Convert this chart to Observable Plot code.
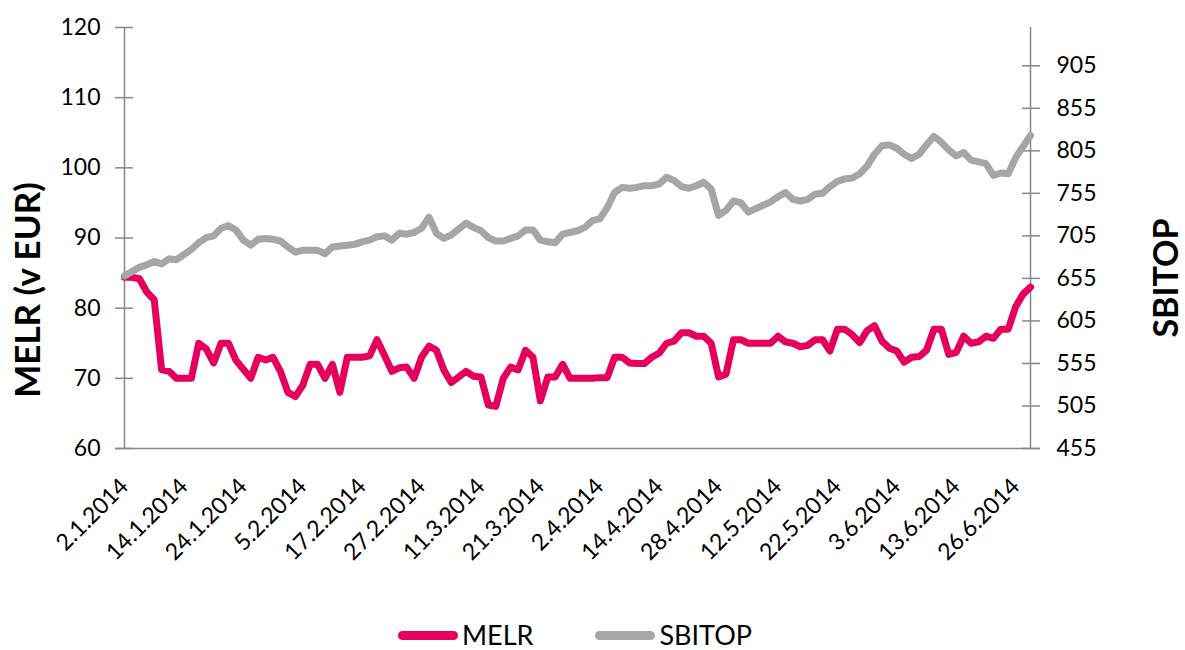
<!DOCTYPE html>
<html><head><meta charset="utf-8">
<script src="https://cdn.jsdelivr.net/npm/d3@7"></script>
<script src="https://cdn.jsdelivr.net/npm/@observablehq/plot@0.6"></script>
<style>
body{margin:0;background:#fff;font-family:Lato,"Open Sans",sans-serif;}
#wrap{position:relative;width:1185px;height:650px;overflow:hidden;background:#fff;}
#wrap svg{display:block;}
.legend{position:absolute;top:618px;left:398px;display:flex;align-items:center;font-size:27px;line-height:34px;color:#000;}
.item{display:flex;align-items:center;}
.sw{display:inline-block;width:60px;height:9px;border-radius:5px;margin-right:4px;}
</style></head><body><div id="wrap"></div>
<script>
const dateLabels = ["2.1.2014","14.1.2014","24.1.2014","5.2.2014","17.2.2014","27.2.2014","11.3.2014","21.3.2014","2.4.2014","14.4.2014","28.4.2014","12.5.2014","22.5.2014","3.6.2014","13.6.2014","26.6.2014"];
const labelIndex = [0,8,16,24,32,40,48,56,64,72,80,88,96,104,112,120];
const melr = [84.4,84.4,84.2,82.3,81.2,71.2,71.0,70.0,70.0,70.0,75.0,74.2,72.2,75.0,75.0,72.6,71.3,70.0,73.0,72.6,
73.0,71.0,68.0,67.4,69.0,72.0,72.0,70.0,72.0,68.0,73.0,73.0,73.0,73.2,75.5,73.3,71.0,71.5,71.6,70.0,
73.0,74.6,74.0,71.2,69.4,70.2,71.0,70.3,70.2,66.2,66.0,70.0,71.6,71.2,74.0,73.0,66.8,70.2,70.2,72.0,
70.0,70.0,70.0,70.0,70.1,70.1,73.0,73.0,72.2,72.1,72.1,73.0,73.6,75.0,75.3,76.5,76.5,76.0,76.0,75.0,
70.2,70.6,75.5,75.5,75.0,75.0,75.0,75.0,76.0,75.2,75.0,74.5,74.7,75.5,75.5,73.9,77.0,77.0,76.2,75.1,
76.8,77.5,75.3,74.3,73.9,72.3,73.0,73.1,74.0,77.0,77.0,73.4,73.7,76.0,75.0,75.2,76.0,75.7,77.0,77.0,
80.2,82.0,83.0];
const sbitop = [658,663,668,671,675,672,678,677,683,689,697,703,705,714,717,712,700,694,701,702,
701,699,692,686,688,688,688,684,692,693,694,695,698,700,704,705,700,708,707,709,
714,727,708,702,706,713,720,715,711,703,699,699,702,705,712,712,700,698,697,707,
709,711,715,723,725,738,756,762,761,762,764,764,766,774,770,763,761,764,768,760,
729,735,746,744,733,737,741,745,751,756,748,746,748,754,755,763,769,772,773,778,
787,801,811,812,808,801,796,801,812,822,815,806,799,803,794,792,790,776,779,778,
797,810,823];
const leftTicks = [60,70,80,90,100,110,120];
const rightTicks = [455,505,555,605,655,705,755,805,855,905];
const leftDomain = [60,120];
const rightDomain = [455,950];
const toLeft = v => leftDomain[0] + (v - rightDomain[0]) * (leftDomain[1]-leftDomain[0]) / (rightDomain[1]-rightDomain[0]);
const fromLeft = y => rightDomain[0] + (y - leftDomain[0]) * (rightDomain[1]-rightDomain[0]) / (leftDomain[1]-leftDomain[0]);
const data = melr.map((m,i) => ({i, melr:m, sb: toLeft(sbitop[i])}));
const pink = "#E6005E", gray = "#A6A6A6", axisColor = "#878787";

const chart = Plot.plot({
  width:1185, height:610,
  marginTop:27, marginBottom:162, marginLeft:124, marginRight:155,
  x:{domain:[0, melr.length-1], axis:null},
  y:{domain:leftDomain, axis:null},
  style:{fontFamily:"Lato, 'Open Sans', sans-serif", fontSize:"23px", color:"#000", background:"#fff"},
  marks:[
    Plot.ruleY([leftDomain[0]], {stroke:axisColor, strokeWidth:1.5, insetLeft:-9, insetRight:-9}),
    Plot.ruleX([0, melr.length-1], {stroke:axisColor, strokeWidth:1.5}),
    Plot.axisY(leftTicks, {anchor:"left", tickSize:18, dx:9, fill:"none", stroke:axisColor, strokeWidth:1.5, label:null}),
    Plot.axisY(leftTicks, {anchor:"left", tickSize:0, tickPadding:24, label:null, fontSize:23}),
    Plot.axisY(rightTicks.map(toLeft), {anchor:"right", tickSize:18, dx:-9, fill:"none", stroke:axisColor, strokeWidth:1.5, label:null}),
    Plot.axisY(rightTicks.map(toLeft), {anchor:"right", tickSize:0, tickPadding:26, label:null, fontSize:23, tickFormat: d => String(Math.round(fromLeft(d)))}),
    Plot.axisX(labelIndex, {anchor:"bottom", tickSize:0, tickPadding:34, tickRotate:-45, label:null, fontSize:23, tickFormat: d => dateLabels[labelIndex.indexOf(d)]}),
    Plot.line(data, {x:"i", y:"melr", stroke:pink, strokeWidth:7, strokeLinejoin:"round", strokeLinecap:"round"}),
    Plot.line(data, {x:"i", y:"sb", stroke:gray, strokeWidth:7, strokeLinejoin:"round", strokeLinecap:"round"}),
    Plot.text(["MELR (v EUR)"], {frameAnchor:"left", textAnchor:"middle", rotate:-90, dx:-96, dy:52, fontSize:35, fontWeight:"bold", fill:"#000"}),
    Plot.text(["SBITOP"], {frameAnchor:"right", textAnchor:"middle", rotate:-90, dx:137, dy:40, fontSize:34, fontWeight:"bold", fill:"#000"})
  ]
});
const wrap = document.getElementById("wrap");
wrap.appendChild(chart);
const legend = document.createElement("div");
legend.className = "legend";
legend.innerHTML = `<span class="item"><span class="sw" style="background:${pink}"></span>MELR</span>
<span class="item" style="margin-left:62px"><span class="sw" style="background:${gray}"></span>SBITOP</span>`;
wrap.appendChild(legend);
</script>
</body></html>
